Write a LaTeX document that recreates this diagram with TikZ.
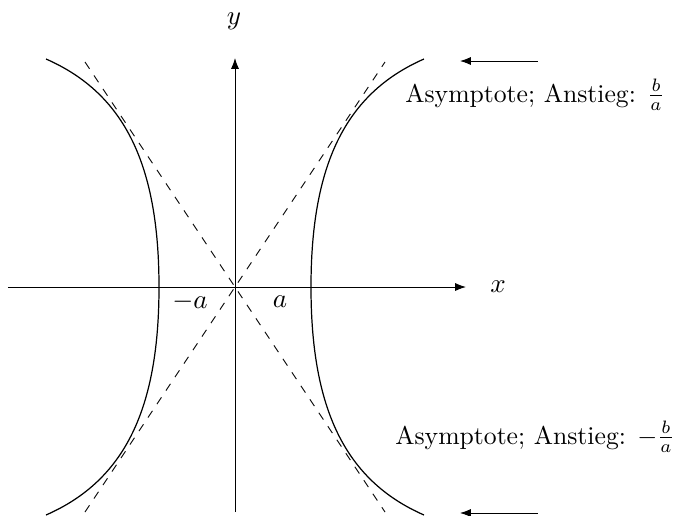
\documentclass[tikz,border=0pt]{standalone}
\usetikzlibrary{arrows.meta}
\begin{document}
\begin{tikzpicture}[x=0.37pt,y=-0.37pt,
  axis/.style={line width=0.35pt,-{Latex[length=4pt,width=3pt]}},
  branch/.style={line width=0.45pt},
  asym/.style={line width=0.35pt,dashed},
  label/.style={inner sep=0pt}]
\useasboundingbox (0,0) rectangle (681,515);
% axes
\coordinate (xs) at (8,287);
\coordinate (xe) at (466,287);
\coordinate (ys) at (235,512);
\coordinate (ye) at (235,58);
\draw[axis] (xs) -- (xe);
\draw[axis] (ys) -- (ye);
\node[label] (xl) at (498,287) {$x$};
\node[label] (yl) at (234,21) {$y$};
\node[label] (ma) at (190,302) {$-a$};
\node[label] (pa) at (280,302) {$a$};
% asymptotes
\coordinate (a1) at (85,512);
\coordinate (a2) at (385,62);
\coordinate (a3) at (85,62);
\coordinate (a4) at (385,512);
\draw[asym] (a1) -- (a2);
\draw[asym] (a3) -- (a4);
% hyperbola branches
\coordinate (rt) at (424,59);
\coordinate (rv) at (311,287);
\coordinate (rb) at (424,515);
\coordinate (lt) at (46,59);
\coordinate (lv) at (159,287);
\coordinate (lb) at (46,515);
\draw[branch] (rt) .. controls (344,94) and (311,167) .. (rv)
  .. controls (311,407) and (344,480) .. (rb);
\draw[branch] (lt) .. controls (126,94) and (159,167) .. (lv)
  .. controls (159,407) and (126,480) .. (lb);
% labels with arrows
\node[label,anchor=base,scale=0.95] (t1) at (535,102) {Asymptote; Anstieg: $\frac{b}{a}$};
\node[label,anchor=base,scale=0.95] (t2) at (535,444) {Asymptote; Anstieg: $-\frac{b}{a}$};
\coordinate (p1s) at (538,61);
\coordinate (p1e) at (460,61);
\coordinate (p2s) at (538,513);
\coordinate (p2e) at (460,513);
\draw[axis] (p1s) -- (p1e);
\draw[axis] (p2s) -- (p2e);
\end{tikzpicture}
\end{document}
